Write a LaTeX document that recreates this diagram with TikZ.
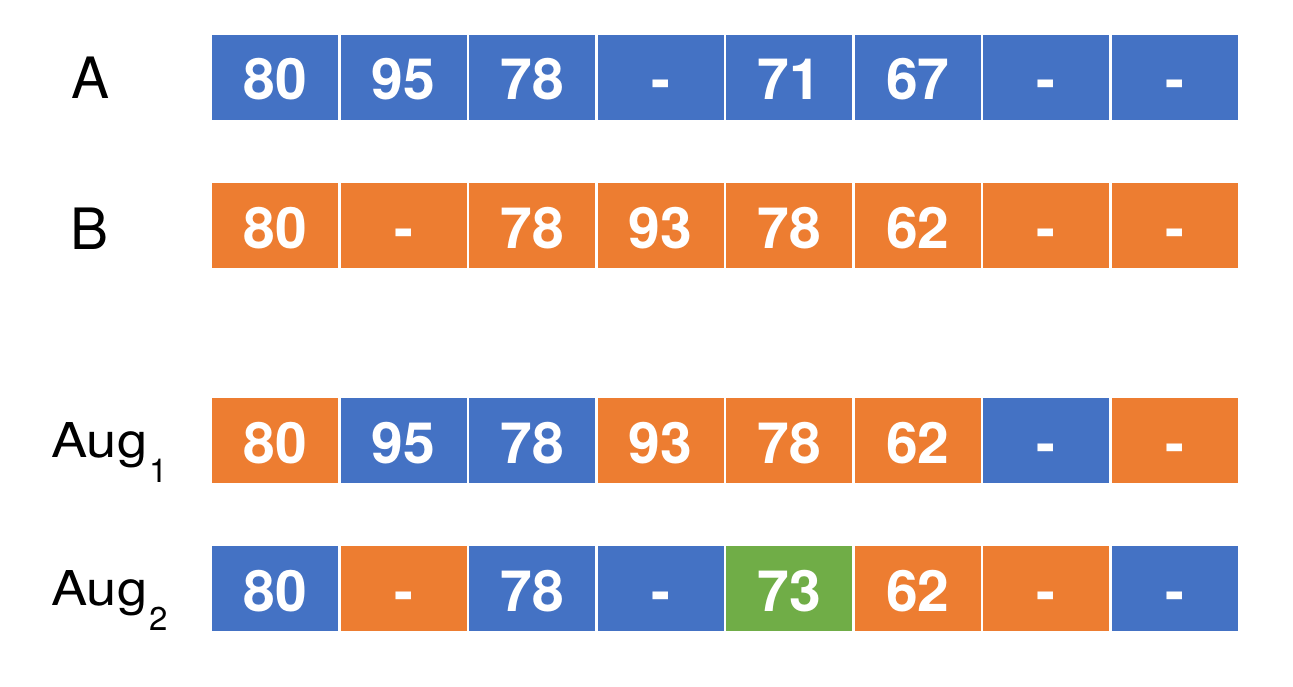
\documentclass[tikz,border=0pt]{standalone}
\usepackage{fontspec}
\setmainfont{TeX Gyre Heros}
\definecolor{cb}{HTML}{4472C4}
\definecolor{co}{HTML}{ED7D31}
\definecolor{cg}{HTML}{70AD47}
\newcommand\auglab[1]{\scalebox{1.13}[1]{Aug}\hspace{2pt}\raisebox{-25pt}{\fontsize{33}{34}\selectfont #1}}
\begin{document}
\begin{tikzpicture}[x=1pt,y=-1pt,
  cell/.style={fill=#1, draw=none},
  num/.style={text=white, font=\fontsize{57}{60}\selectfont\bfseries, anchor=base, inner sep=0pt},
  lab/.style={font=\fontsize{57}{60}\selectfont, anchor=base west, inner sep=0pt},
  alab/.style={font=\fontsize{48}{52}\selectfont, anchor=base west, inner sep=0pt}]
\fill[white] (0,0) rectangle (1293,687);
\useasboundingbox (0,0) rectangle (1293,687);
\def\pitch{128.56}
\def\cw{126}
\def\ch{85}
\newcommand\myrow[3]{%
  \foreach \c/\t [count=\i from 0] in {#3} {
    \pgfmathsetmacro\xl{212+\i*\pitch}
    \path[cell=\c] (\xl,#1) rectangle ++(\cw,\ch);
    \node[num] (#2\i) at (\xl+\cw/2,#1+65) {\t};
  }%
}
\myrow{35}{a}{cb/80,cb/95,cb/78,cb/-,cb/71,cb/67,cb/-,cb/-}
\myrow{183}{b}{co/80,co/-,co/78,co/93,co/78,co/62,co/-,co/-}
\myrow{398}{c}{co/80,cb/95,cb/78,co/93,co/78,co/62,cb/-,co/-}
\myrow{546}{d}{cb/80,co/-,cb/78,cb/-,cg/73,co/62,co/-,cb/-}
\node[lab] (la) at (71,99) {A};
\node[lab] (lb) at (70,249) {B};
\node[alab] (lc) at (51,457) {\auglab{1}};
\node[alab] (ld) at (51,605) {\auglab{2}};
\end{tikzpicture}
\end{document}
